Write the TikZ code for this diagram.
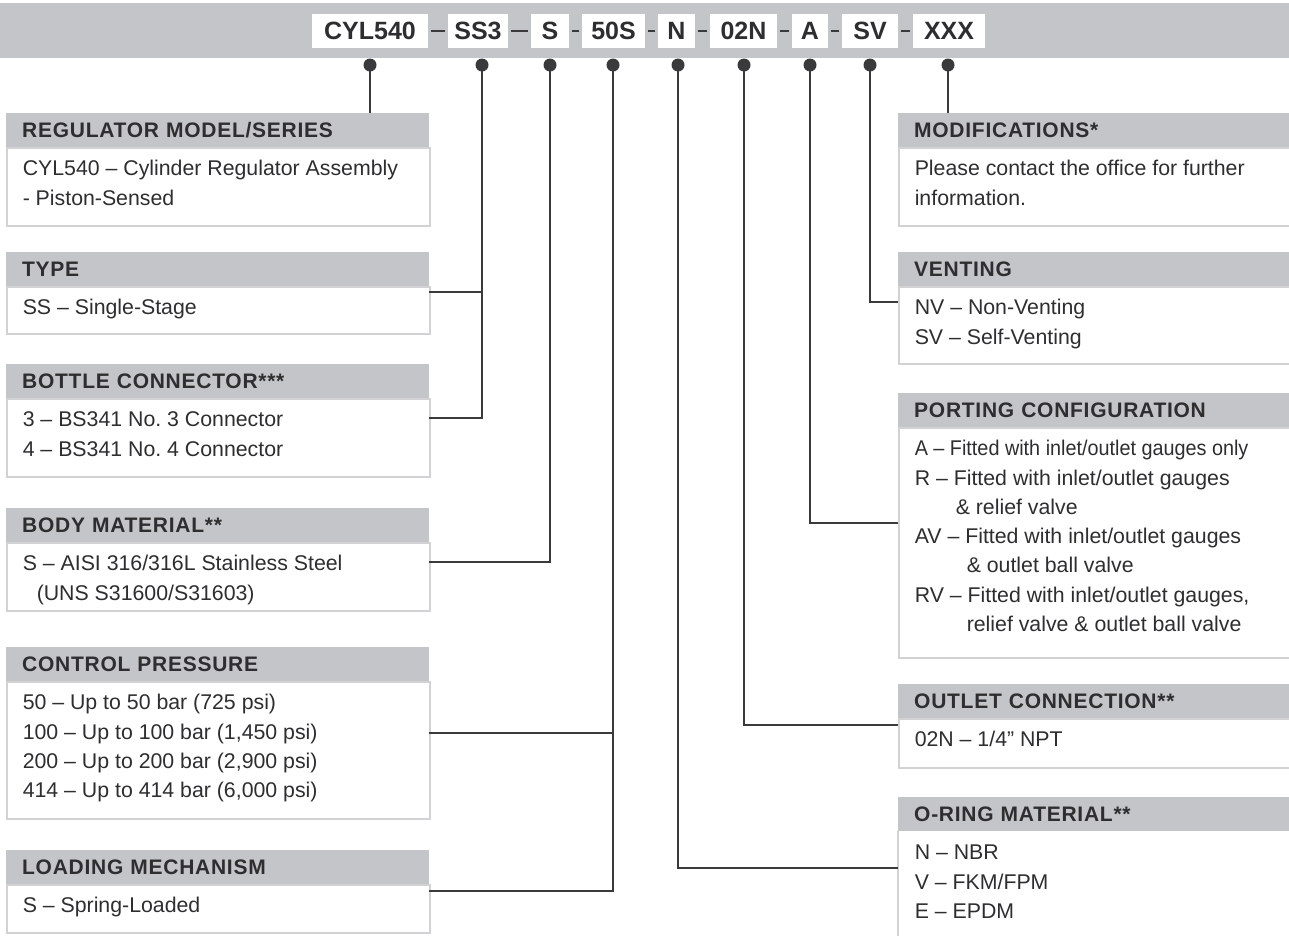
\documentclass[tikz,border=0pt]{standalone}
\usepackage{fontspec}
\setmainfont{Liberation Sans}
\newfontfamily\hdrfont[LetterSpace=3.5]{Liberation Sans}
\newfontfamily\narrowfont[FakeStretch=0.93]{Liberation Sans}
\definecolor{bargrey}{HTML}{C4C5C8}
\definecolor{hdrgrey}{HTML}{C4C5C8}
\definecolor{bordergrey}{HTML}{D2D2D4}
\definecolor{ink}{HTML}{2E2E30}
\definecolor{linec}{HTML}{3A3A3C}
\newcommand{\bodybox}[3]{\parbox[c][#1][t]{#2}{\raggedright\frenchspacing\rule{0pt}{28pt}#3}}
\tikzset{
  codebox/.style={fill=white, inner sep=0pt, minimum height=34pt, text=ink,
    font=\fontsize{25}{25}\selectfont\bfseries},
  bardash/.style={draw=linec, line width=2pt, shorten <=3pt, shorten >=3pt},
  hdr/.style={fill=hdrgrey, anchor=north west, inner xsep=16pt, inner ysep=0pt,
    minimum height=34pt, text=ink, align=left,
    font=\hdrfont\fontsize{21}{24}\selectfont\bfseries},
  body/.style={draw=bordergrey, line width=1.5pt, fill=white, anchor=north west,
    inner xsep=16pt, inner ysep=0pt, text=ink,
    font=\fontsize{21.3}{29.3}\selectfont},
  leftcol/.style={text width=391pt},
  rightcol/.style={text width=380pt},
  conn/.style={draw=linec, line width=1.4pt},
  dot/.style={circle, fill=linec, inner sep=0pt, minimum size=13pt},
  border/.style={draw=bordergrey, line width=1.5pt}
}
\begin{document}
\begin{tikzpicture}[x=1pt,y=-1pt]
\useasboundingbox (0,0) rectangle (1289,935);
\clip (0,0) rectangle (1289,935);
\fill[white] (0,0) rectangle (1289,935);
% top bar
\fill[bargrey] (0,3) rectangle (1289,58);
\node[codebox, minimum width=116pt] (k1) at (370,31) {CYL540};
\node[codebox, minimum width=60pt]  (k2) at (478,31) {SS3};
\node[codebox, minimum width=38pt]  (k3) at (550,31) {S};
\node[codebox, minimum width=63pt]  (k4) at (613.5,31) {50S};
\node[codebox, minimum width=37pt]  (k5) at (676.5,31) {N};
\node[codebox, minimum width=67pt]  (k6) at (743.5,31) {02N};
\node[codebox, minimum width=36pt]  (k7) at (810,31) {A};
\node[codebox, minimum width=56pt]  (k8) at (870,31) {SV};
\node[codebox, minimum width=72pt]  (k9) at (949,31) {XXX};
\draw[bardash] (k1) -- (k2);
\draw[bardash] (k2) -- (k3);
\draw[bardash] (k3) -- (k4);
\draw[bardash] (k4) -- (k5);
\draw[bardash] (k5) -- (k6);
\draw[bardash] (k6) -- (k7);
\draw[bardash] (k7) -- (k8);
\draw[bardash] (k8) -- (k9);

% left column
\node[hdr, leftcol] (h1) at (6,113) {REGULATOR MODEL/SERIES};
\node[body] (b1) at (6,147)
  {\bodybox{78pt}{391pt}{CYL540 – Cylinder Regulator Assembly\\- Piston-Sensed}};
\node[hdr, leftcol] (h2) at (6,252) {TYPE};
\node[body] (b2) at (6,286) {\bodybox{47pt}{391pt}{SS – Single-Stage}};
\node[hdr, leftcol] (h3) at (6,364) {BOTTLE CONNECTOR***};
\node[body] (b3) at (6,398)
  {\bodybox{78pt}{391pt}{3 – BS341 No. 3 Connector\\4 – BS341 No. 4 Connector}};
\node[hdr, leftcol] (h4) at (6,508) {BODY MATERIAL**};
\node[body] (b4) at (6,542)
  {\bodybox{68pt}{391pt}{S – AISI 316/316L Stainless Steel\\\hspace*{14pt}(UNS S31600/S31603)}};
\node[hdr, leftcol] (h5) at (6,647) {CONTROL PRESSURE};
\node[body] (b5) at (6,681)
  {\bodybox{137pt}{391pt}{50 – Up to 50 bar (725 psi)\\100 – Up to 100 bar (1,450 psi)\\200 – Up to 200 bar (2,900 psi)\\414 – Up to 414 bar (6,000 psi)}};
\node[hdr, leftcol] (h6) at (6,850) {LOADING MECHANISM};
\node[body] (b6) at (6,884) {\bodybox{48pt}{391pt}{S – Spring-Loaded}};

% right column
\node[hdr, rightcol] (h7) at (898,113) {MODIFICATIONS*};
\node[body] (b7) at (898,147)
  {\bodybox{78pt}{380pt}{Please contact the office for further\\information.}};
\node[hdr, rightcol] (h8) at (898,252) {VENTING};
\node[body] (b8) at (898,286)
  {\bodybox{77pt}{380pt}{NV – Non-Venting\\SV – Self-Venting}};
\node[hdr, rightcol] (h9) at (898,393) {PORTING CONFIGURATION};
\node[body] (b9) at (898,427)
  {\bodybox{230pt}{380pt}{{\narrowfont A – Fitted with inlet/outlet gauges only}\\R – Fitted with inlet/outlet gauges\\\hspace*{41pt}\& relief valve\\AV – Fitted with inlet/outlet gauges\\\hspace*{52pt}\& outlet ball valve\\RV – Fitted with inlet/outlet gauges,\\\hspace*{52pt}relief valve \& outlet ball valve}};
\node[hdr, rightcol] (h10) at (898,684) {OUTLET CONNECTION**};
\node[body] (b10) at (898,718) {\bodybox{49pt}{380pt}{02N – 1/4” NPT}};
\node[hdr, rightcol] (h11) at (898,797) {O-RING MATERIAL**};
\node[body, draw=none] (b11) at (898,831)
  {\bodybox{120pt}{380pt}{N – NBR\\V – FKM/FPM\\E – EPDM}};
\draw[border] (b11.north west) -- (b11.south west);

% dots
\node[dot] (d1) at (370,65) {};
\node[dot] (d2) at (482,65) {};
\node[dot] (d3) at (550,65) {};
\node[dot] (d4) at (613,65) {};
\node[dot] (d5) at (678,65) {};
\node[dot] (d6) at (744,65) {};
\node[dot] (d7) at (810,65) {};
\node[dot] (d8) at (870,65) {};
\node[dot] (d9) at (948,65) {};

% connector ends
\coordinate (t2) at (429,292);
\coordinate (t3) at (429,418);
\coordinate (t4) at (429,562);
\coordinate (t5) at (429,733);
\coordinate (t6) at (429,891);
\coordinate (t8) at (898,302);
\coordinate (t7) at (898,523);
\coordinate (t10) at (898,725);
\coordinate (t11) at (898,868);

\draw[conn] (d1.center) -- (d1 |- h1.north);
\draw[conn] (d2.center) |- (t3);
\draw[conn] (t2) -- (t2 -| d2);
\draw[conn] (d3.center) |- (t4);
\draw[conn] (d4.center) |- (t6);
\draw[conn] (t5) -- (t5 -| d4);
\draw[conn] (d5.center) |- (t11);
\draw[conn] (d6.center) |- (t10);
\draw[conn] (d7.center) |- (t7);
\draw[conn] (d8.center) |- (t8);
\draw[conn] (d9.center) -- (d9 |- h7.north);
\end{tikzpicture}
\end{document}
